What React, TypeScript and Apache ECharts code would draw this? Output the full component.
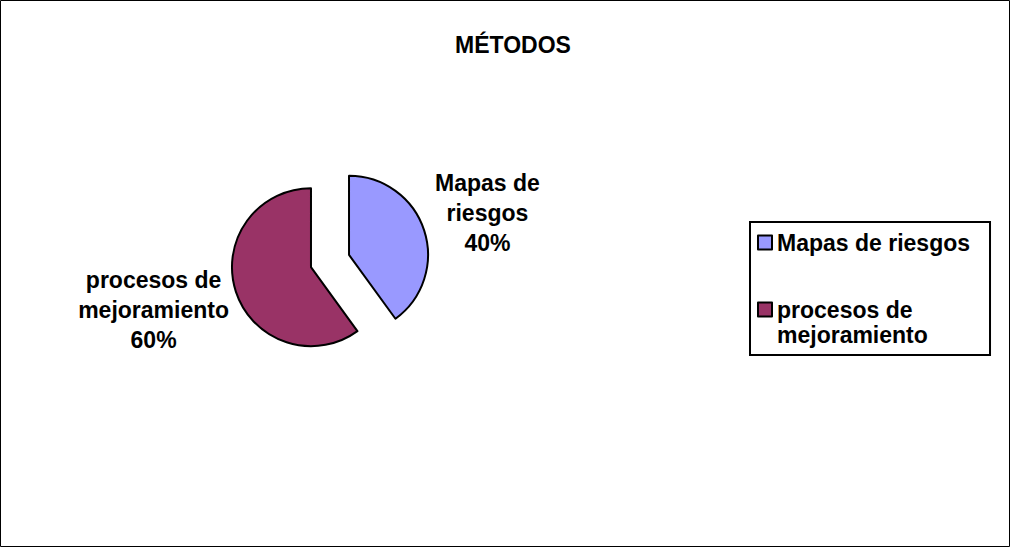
import React, { useEffect, useRef } from "react";
import * as echarts from "echarts";

// Chart data
const categories = ["Mapas de riesgos", "procesos de mejoramiento"];
const values = [40, 60];
const sliceColors = ["#9999FF", "#993366"];
// Wrapped texts used for the slice labels and the legend entries
const labelNames = ["Mapas de\nriesgos", "procesos de\nmejoramiento"];
const legendNames = ["Mapas de riesgos", "procesos de\nmejoramiento"];
const chartTitle = "MÉTODOS";

const FONT = "'Liberation Sans', Arial, sans-serif";

export default function App() {
  const ref = useRef<HTMLDivElement>(null);

  useEffect(() => {
    if (!ref.current) return;
    const chart = echarts.init(ref.current, undefined, { renderer: "svg" });

    const data = categories.map((name, i) => ({
      name,
      value: values[i],
      selected: true,
      itemStyle: { color: sliceColors[i] },
      select: { itemStyle: { color: sliceColors[i], borderColor: "#000", borderWidth: 2 } },
    }));

    // Nudges applied to the default outside label spots
    const labelShift = [
      { dx: 14, dy: -13 },
      { dx: -33, dy: 14 },
    ];

    chart.setOption({
      animation: false,
      backgroundColor: "#ffffff",
      title: {
        text: chartTitle,
        left: 508,
        top: 28,
        textAlign: "center",
        textStyle: { fontFamily: FONT, fontSize: 23, fontWeight: "bold", color: "#000" },
      },
      legend: {
        orient: "vertical",
        left: 750,
        top: 222,
        padding: [8, 20, 8, 7],
        itemGap: 17,
        itemWidth: 14,
        itemHeight: 14,
        icon: "rect",
        borderColor: "#000",
        borderWidth: 2,
        selectedMode: false,
        itemStyle: { borderColor: "#000", borderWidth: 2 },
        formatter: (name: string) => {
          const i = categories.indexOf(name);
          const txt = legendNames[i];
          // multi-line entry: keep the first line level with its swatch
          return txt.includes("\n") ? "\n" + txt : txt;
        },
        textStyle: { fontFamily: FONT, fontSize: 23, fontWeight: "bold", color: "#000", lineHeight: 25 },
      },
      graphic: [
        {
          type: "rect",
          shape: { x: 0.5, y: 0.5, width: 1009, height: 546 },
          style: { fill: "none", stroke: "#000", lineWidth: 1 },
          silent: true,
        },
      ],
      series: [
        {
          type: "pie",
          center: [330, 261],
          radius: 79,
          startAngle: 90,
          clockwise: true,
          selectedMode: "multiple",
          selectedOffset: 20,
          emphasis: { disabled: true },
          itemStyle: { borderColor: "#000", borderWidth: 2 },
          label: {
            show: true,
            position: "outside",
            formatter: (p: any) => `${labelNames[p.dataIndex]}\n${p.percent}%`,
            fontFamily: FONT,
            fontSize: 23,
            fontWeight: "bold",
            color: "#000",
            lineHeight: 30,
            align: "center",
          },
          labelLine: { show: false },
          labelLayout: (params: any) => ({
            dx: labelShift[params.dataIndex].dx,
            dy: labelShift[params.dataIndex].dy,
            align: "center",
            verticalAlign: "middle",
          }),
          data,
        },
      ],
    });

    return () => chart.dispose();
  }, []);

  return (
    <div
      ref={ref}
      style={{ position: "absolute", left: 0, top: 0, width: 1011, height: 548 }}
    />
  );
}
